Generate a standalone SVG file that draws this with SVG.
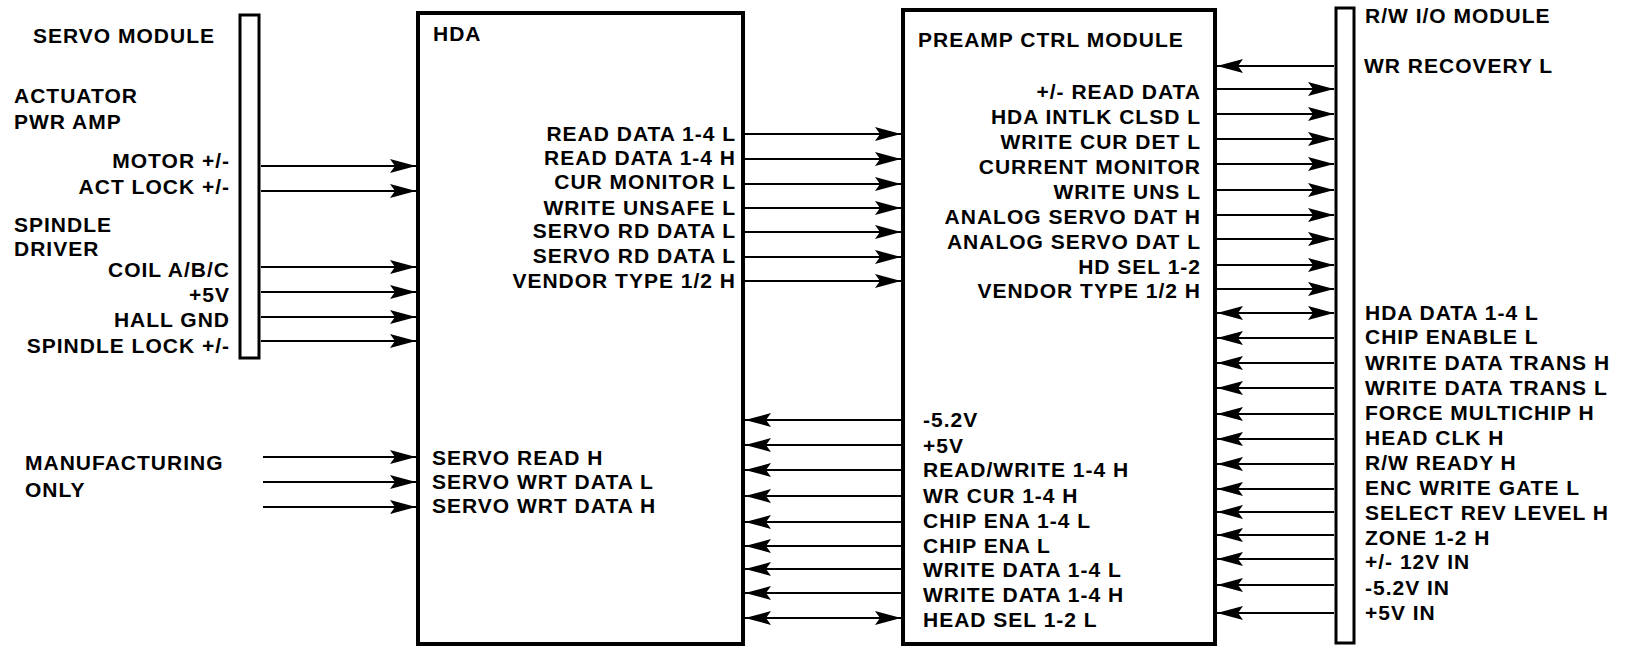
<svg xmlns="http://www.w3.org/2000/svg" width="1627" height="647" viewBox="0 0 1627 647">
<style>
text{font-family:"Liberation Sans",Arial,sans-serif;font-weight:bold;font-size:21px;letter-spacing:1px;fill:#000}
.e{text-anchor:end}
.box{fill:#fff;stroke:#000;stroke-width:4}
.bar{fill:#fff;stroke:#000;stroke-width:3}
#connectors line{stroke:#000;stroke-width:2;marker-end:url(#ah)}
#connectors line.bi{marker-start:url(#ah)}
</style>
<defs>
<marker id="ah" markerUnits="userSpaceOnUse" markerWidth="28" markerHeight="16" refX="26" refY="7" orient="auto-start-reverse">
<path d="M0,0 L26,7 L0,14 L5,7 Z" fill="#000"/>
</marker>
</defs>
<rect width="1627" height="647" fill="#fff"/>
<g id="servo-module">
<rect class="bar" x="240" y="15" width="19" height="343"/>
<text x="33" y="43">SERVO MODULE</text>
<text x="14" y="103">ACTUATOR</text>
<text x="14" y="129">PWR AMP</text>
<text class="e" x="230" y="168">MOTOR +/-</text>
<text class="e" x="230" y="194">ACT LOCK +/-</text>
<text x="14" y="232">SPINDLE</text>
<text x="14" y="256">DRIVER</text>
<text class="e" x="230" y="277">COIL A/B/C</text>
<text class="e" x="230" y="302">+5V</text>
<text class="e" x="230" y="327">HALL GND</text>
<text class="e" x="230" y="353">SPINDLE LOCK +/-</text>
</g>
<g id="manufacturing">
<text x="25" y="470">MANUFACTURING</text>
<text x="25" y="497">ONLY</text>
</g>
<g id="hda">
<rect class="box" x="418" y="13" width="325" height="631"/>
<text x="433" y="41">HDA</text>
<text class="e" x="736" y="141">READ DATA 1-4 L</text>
<text class="e" x="736" y="165">READ DATA 1-4 H</text>
<text class="e" x="736" y="189">CUR MONITOR L</text>
<text class="e" x="736" y="215">WRITE UNSAFE L</text>
<text class="e" x="736" y="238">SERVO RD DATA L</text>
<text class="e" x="736" y="263">SERVO RD DATA L</text>
<text class="e" x="736" y="288">VENDOR TYPE 1/2 H</text>
<text x="432" y="465">SERVO READ H</text>
<text x="432" y="489">SERVO WRT DATA L</text>
<text x="432" y="513">SERVO WRT DATA H</text>
</g>
<g id="preamp">
<rect class="box" x="903" y="10" width="312" height="634"/>
<text x="918" y="47">PREAMP CTRL MODULE</text>
<text class="e" x="1201" y="99">+/- READ DATA</text>
<text class="e" x="1201" y="124">HDA INTLK CLSD L</text>
<text class="e" x="1201" y="149">WRITE CUR DET L</text>
<text class="e" x="1201" y="174">CURRENT MONITOR</text>
<text class="e" x="1201" y="199">WRITE UNS L</text>
<text class="e" x="1201" y="224">ANALOG SERVO DAT H</text>
<text class="e" x="1201" y="249">ANALOG SERVO DAT L</text>
<text class="e" x="1201" y="274">HD SEL 1-2</text>
<text class="e" x="1201" y="298">VENDOR TYPE 1/2 H</text>
<text x="923" y="427">-5.2V</text>
<text x="923" y="453">+5V</text>
<text x="923" y="477">READ/WRITE 1-4 H</text>
<text x="923" y="503">WR CUR 1-4 H</text>
<text x="923" y="528">CHIP ENA 1-4 L</text>
<text x="923" y="553">CHIP ENA L</text>
<text x="923" y="577">WRITE DATA 1-4 L</text>
<text x="923" y="602">WRITE DATA 1-4 H</text>
<text x="923" y="627">HEAD SEL 1-2 L</text>
</g>
<g id="rw-io-module">
<rect class="bar" x="1336" y="8" width="18" height="635"/>
<text x="1365" y="23">R/W I/O MODULE</text>
<text x="1364" y="73">WR RECOVERY L</text>
<text x="1365" y="320">HDA DATA 1-4 L</text>
<text x="1365" y="344">CHIP ENABLE L</text>
<text x="1365" y="370">WRITE DATA TRANS H</text>
<text x="1365" y="395">WRITE DATA TRANS L</text>
<text x="1365" y="420">FORCE MULTICHIP H</text>
<text x="1365" y="445">HEAD CLK H</text>
<text x="1365" y="470">R/W READY H</text>
<text x="1365" y="495">ENC WRITE GATE L</text>
<text x="1365" y="520">SELECT REV LEVEL H</text>
<text x="1365" y="545">ZONE 1-2 H</text>
<text x="1365" y="569">+/- 12V IN</text>
<text x="1365" y="595">-5.2V IN</text>
<text x="1365" y="620">+5V IN</text>
</g>
<g id="connectors">
<line x1="261" y1="166" x2="416" y2="166"/>
<line x1="261" y1="191" x2="416" y2="191"/>
<line x1="261" y1="267" x2="416" y2="267"/>
<line x1="261" y1="292" x2="416" y2="292"/>
<line x1="261" y1="317" x2="416" y2="317"/>
<line x1="261" y1="341" x2="416" y2="341"/>
<line x1="263" y1="457" x2="416" y2="457"/>
<line x1="263" y1="482" x2="416" y2="482"/>
<line x1="263" y1="507" x2="416" y2="507"/>
<line x1="745" y1="134" x2="901" y2="134"/>
<line x1="745" y1="159" x2="901" y2="159"/>
<line x1="745" y1="184" x2="901" y2="184"/>
<line x1="745" y1="208" x2="901" y2="208"/>
<line x1="745" y1="232" x2="901" y2="232"/>
<line x1="745" y1="257" x2="901" y2="257"/>
<line x1="745" y1="281" x2="901" y2="281"/>
<line x1="901" y1="420" x2="745" y2="420"/>
<line x1="901" y1="445" x2="745" y2="445"/>
<line x1="901" y1="470" x2="745" y2="470"/>
<line x1="901" y1="496" x2="745" y2="496"/>
<line x1="901" y1="522" x2="745" y2="522"/>
<line x1="901" y1="546" x2="745" y2="546"/>
<line x1="901" y1="569" x2="745" y2="569"/>
<line x1="901" y1="593" x2="745" y2="593"/>
<line class="bi" x1="745" y1="618" x2="901" y2="618"/>
<line x1="1334" y1="66" x2="1217" y2="66"/>
<line x1="1217" y1="89" x2="1334" y2="89"/>
<line x1="1217" y1="114" x2="1334" y2="114"/>
<line x1="1217" y1="139" x2="1334" y2="139"/>
<line x1="1217" y1="164" x2="1334" y2="164"/>
<line x1="1217" y1="190" x2="1334" y2="190"/>
<line x1="1217" y1="215" x2="1334" y2="215"/>
<line x1="1217" y1="239" x2="1334" y2="239"/>
<line x1="1217" y1="265" x2="1334" y2="265"/>
<line x1="1217" y1="289" x2="1334" y2="289"/>
<line class="bi" x1="1217" y1="313" x2="1334" y2="313"/>
<line x1="1334" y1="338" x2="1217" y2="338"/>
<line x1="1334" y1="363" x2="1217" y2="363"/>
<line x1="1334" y1="388" x2="1217" y2="388"/>
<line x1="1334" y1="414" x2="1217" y2="414"/>
<line x1="1334" y1="439" x2="1217" y2="439"/>
<line x1="1334" y1="464" x2="1217" y2="464"/>
<line x1="1334" y1="489" x2="1217" y2="489"/>
<line x1="1334" y1="512" x2="1217" y2="512"/>
<line x1="1334" y1="535" x2="1217" y2="535"/>
<line x1="1334" y1="559" x2="1217" y2="559"/>
<line x1="1334" y1="585" x2="1217" y2="585"/>
<line x1="1334" y1="613" x2="1217" y2="613"/>
</g>
</svg>
